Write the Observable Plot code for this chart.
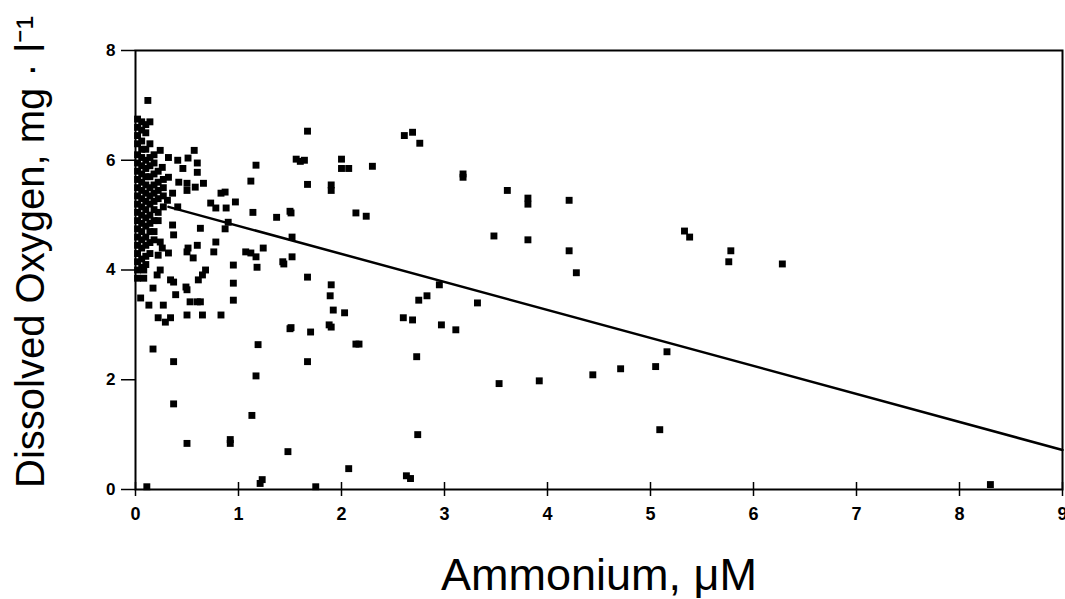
<!DOCTYPE html>
<html>
<head>
<meta charset="utf-8">
<script src="https://cdn.jsdelivr.net/npm/d3@7"></script>
<script src="https://cdn.jsdelivr.net/npm/@observablehq/plot@0.6"></script>
<style>
  html, body { margin: 0; padding: 0; background: #fff; }
  #chart { width: 1065px; height: 599px; overflow: hidden; }
</style>
</head>
<body>
<div id="chart"></div>
<script>
// Ammonium (µM) and dissolved oxygen (mg/l) readings
const ammonium = [
  // dense cluster near zero
  0.02,0.02,0.02,0.02,0.02,0.02,0.02,0.02,0.02,0.02,0.02,0.02,0.02,0.02,0.02,0.02,0.02,0.02,0.02,0.02,
  0.06,0.06,0.06,0.06,0.06,0.06,0.06,0.06,0.06,0.06,0.06,0.06,0.06,0.06,0.06,0.06,0.06,0.06,
  0.10,0.10,0.10,0.10,0.10,0.10,0.10,0.10,0.10,0.10,0.10,0.10,0.10,0.10,0.10,0.10,
  0.14,0.14,0.14,0.14,0.14,0.14,0.14,0.14,0.14,0.14,0.14,0.14,0.14,
  0.18,0.18,0.18,0.18,0.18,0.18,0.18,0.18,0.18,0.18,
  0.22,0.22,0.22,0.22,0.22,0.22,
  0.27,0.27,0.27,0.27,
  // left spread
  0.12,0.57,0.24,0.32,0.41,0.51,0.60,0.60,0.46,0.26,0.32,0.42,0.50,0.58,0.66,0.50,
  1.17,1.12,0.83,0.87,0.97,0.73,0.78,0.88,0.36,0.31,0.41,1.14,1.37,1.51,
  0.90,0.87,0.63,0.36,0.37,0.24,0.78,0.60,0.51,0.50,0.26,0.22,0.32,0.56,0.76,
  1.07,1.12,1.17,1.24,1.18,1.43,1.44,1.52,0.95,0.95,0.68,0.61,0.65,0.24,0.21,
  0.08,0.08,0.17,0.34,0.37,0.49,0.50,1.67,1.52,
  0.39,0.27,0.13,0.05,0.22,0.29,0.34,0.50,0.53,0.60,0.63,0.65,0.83,0.95,
  0.17,0.37,0.37,0.50,0.92,0.92,0.11,1.13,1.17,1.19,1.21,1.23,1.48,1.50,1.51,1.67,1.70,1.75,
  // middle
  1.67,1.56,1.60,1.64,1.67,1.50,1.90,1.90,2.00,2.07,2.00,2.14,2.24,2.30,
  1.90,1.89,1.92,1.88,1.90,2.03,2.14,2.17,2.07,
  2.61,2.69,2.76,2.60,2.69,2.75,2.83,2.95,2.97,3.11,3.32,2.73,2.74,2.63,2.67,
  3.18,3.18,3.48,3.61,3.81,3.81,3.81,3.53,3.92,
  // right
  4.21,4.21,4.28,4.44,4.71,5.05,5.16,5.09,5.33,5.38,5.76,5.78,6.28,8.30
];
const oxygen = [
  6.75,6.60,6.45,6.30,6.10,5.95,5.80,5.65,5.50,5.35,5.20,5.05,4.90,4.75,4.60,4.45,4.30,4.15,4.00,3.85,
  6.70,6.55,6.35,6.20,6.05,5.90,5.75,5.60,5.45,5.30,5.15,5.00,4.85,4.70,4.55,4.40,4.20,4.05,
  6.65,6.50,6.20,6.00,5.85,5.70,5.55,5.40,5.25,5.10,4.95,4.80,4.60,4.45,4.25,4.10,
  6.70,6.30,6.05,5.90,5.70,5.50,5.35,5.20,5.00,4.85,4.70,4.50,4.30,
  6.10,5.95,5.75,5.55,5.40,5.25,5.10,4.90,4.70,4.55,
  5.80,5.60,5.45,5.30,5.05,4.90,
  5.65,5.50,5.35,5.15,
  7.09,6.18,6.18,6.05,6.00,6.04,5.95,5.78,5.85,5.87,5.69,5.60,5.58,5.51,5.58,5.45,
  5.91,5.62,5.40,5.42,5.24,5.22,5.13,5.13,5.40,5.27,5.15,5.05,4.96,5.04,
  4.87,4.75,4.76,4.82,4.64,4.51,4.51,4.45,4.40,4.33,4.40,4.27,4.31,4.22,4.33,
  4.33,4.31,4.24,4.40,4.05,4.15,4.11,4.24,4.09,3.76,4.00,3.82,3.91,4.00,3.91,
  4.00,3.85,3.67,3.82,3.78,3.69,3.64,3.87,4.60,
  3.55,3.36,3.36,3.49,3.13,3.05,3.13,3.18,3.42,3.42,3.42,3.18,3.18,3.45,
  2.56,2.33,1.56,0.84,0.84,0.91,0.05,1.35,2.07,2.64,0.11,0.18,0.69,2.93,2.95,2.33,2.87,0.05,
  6.53,6.02,5.98,6.00,5.56,5.07,5.55,5.45,6.02,5.85,5.85,5.04,4.98,5.89,
  3.73,3.53,3.27,3.00,2.96,3.22,2.65,2.65,0.38,
  6.45,6.51,6.31,3.13,3.09,3.45,3.53,3.73,3.00,2.91,3.40,2.42,1.00,0.25,0.20,
  5.75,5.69,4.62,5.45,5.31,5.20,4.55,1.93,1.98,
  5.27,4.35,3.95,2.09,2.20,2.24,2.51,1.09,4.71,4.60,4.15,4.35,4.11,0.09
];
// Fitted regression line end points
const fitX = [0.32, 9];
const fitY = [5.15, 0.72];
const xTicks = [0,1,2,3,4,5,6,7,8,9];
const yTicks = [0,2,4,6,8];
const xTitle = "Ammonium, μM";
const yTitle = "Dissolved Oxygen, mg · l⁻¹";

const points = ammonium.map((a, i) => ({a, o: oxygen[i]}));
const fit = fitX.map((a, i) => ({a, o: fitY[i]}));

const chart = Plot.plot({
  width: 1065,
  height: 599,
  marginLeft: 135,
  marginRight: 3,
  marginTop: 50,
  marginBottom: 110,
  style: {fontFamily: "'Liberation Sans', Arial, Helvetica, sans-serif", background: "#fff", color: "#000"},
  x: {domain: [0, 9]},
  y: {domain: [0, 8]},
  marks: [
    Plot.frame({stroke: "#000", strokeWidth: 2}),
    Plot.axisX({ticks: xTicks, tickSize: 14, dy: -7, tickPadding: 11, fontSize: 18, fontWeight: "bold", label: null, strokeWidth: 1.5}),
    Plot.axisY({ticks: yTicks, tickSize: 14, tickPadding: 6, fontSize: 17, fontWeight: "bold", label: null, strokeWidth: 1.5}),
    Plot.line(fit, {x: "a", y: "o", stroke: "#000", strokeWidth: 2.5}),
    Plot.dot(points, {x: "a", y: "o", symbol: "square", r: 3.9, fill: "#000", stroke: null}),
    Plot.text([xTitle], {text: d => d, frameAnchor: "bottom", textAnchor: "middle", lineAnchor: "bottom", dy: 100, fontSize: 45, fill: "#000"}),
    Plot.text([yTitle], {text: d => d, frameAnchor: "left", textAnchor: "middle", lineAnchor: "middle", rotate: -90, dx: -104, dy: -18, fontSize: 40, fill: "#000"})
  ]
});
document.getElementById("chart").appendChild(chart);
</script>
</body>
</html>
